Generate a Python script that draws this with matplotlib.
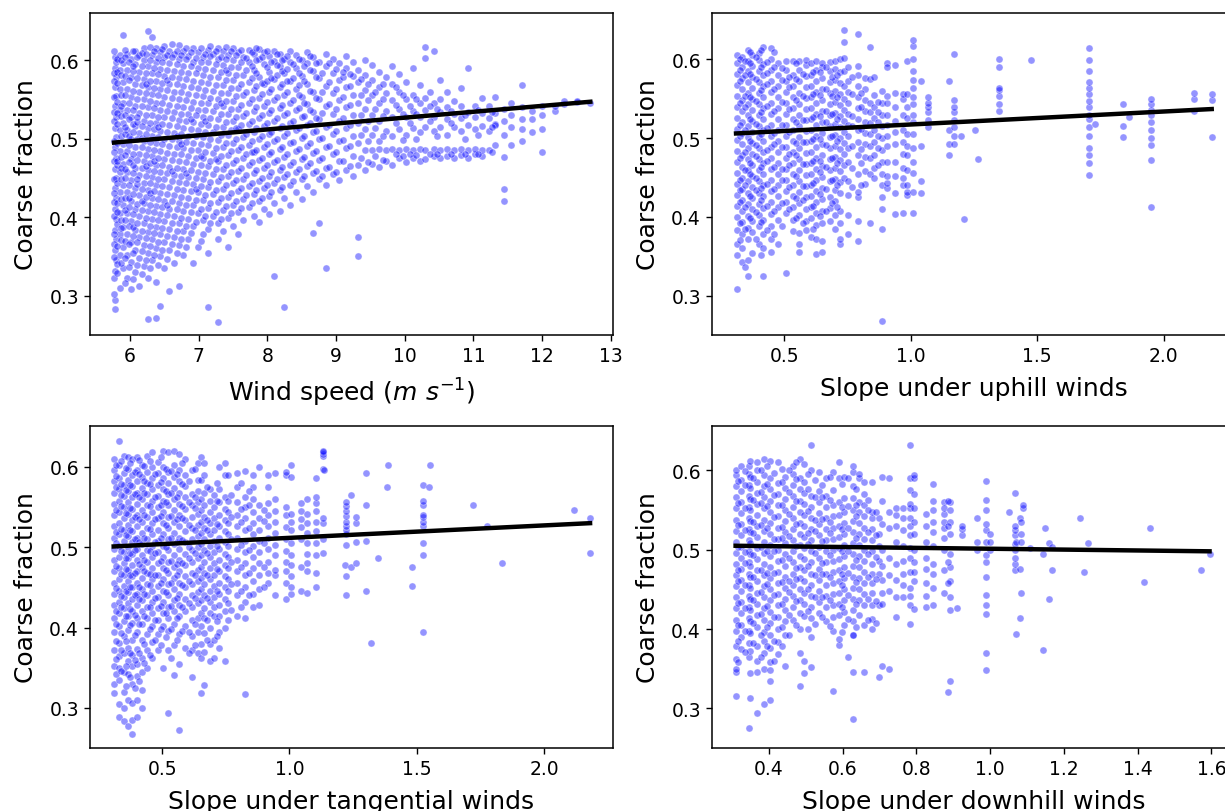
# Coarse fraction against wind speed and slope, four scatter panels with fit lines
import matplotlib
matplotlib.use("Agg")
import matplotlib.pyplot as plt

# y values are in thousandths, one row per x column
wind_columns = [
    (5.78, [283, 294, 331, 358, 384, 411, 437, 462, 489, 514, 541, 566, 590, 604]),
    (5.80, [345, 372, 398, 425, 450, 476, 502, 528, 554, 579, 598]),
    (5.85, [310, 352, 379, 405, 432, 458, 484, 511, 537, 563, 588, 607]),
    (5.90, [335, 362, 388, 415, 441, 468, 493, 520, 546, 572, 596, 632]),
    (5.96, [322, 352, 379, 405, 432, 458, 484, 511, 537, 563, 588, 608]),
    (6.02, [308, 343, 368, 395, 421, 447, 474, 500, 527, 553, 578, 601]),
    (6.08, [330, 358, 384, 410, 437, 463, 490, 516, 542, 569, 595, 612]),
    (6.14, [312, 348, 375, 401, 428, 454, 480, 507, 533, 560, 585, 606]),
    (6.20, [338, 365, 392, 418, 444, 471, 497, 523, 550, 576, 600, 615]),
    (6.26, [270, 322, 355, 381, 408, 434, 460, 487, 513, 540, 566, 592, 637]),
    (6.32, [345, 372, 398, 425, 451, 478, 504, 530, 557, 583, 607, 630]),
    (6.38, [272, 318, 361, 388, 414, 441, 467, 494, 520, 546, 573, 598, 615]),
    (6.44, [287, 350, 378, 404, 431, 457, 484, 510, 537, 563, 589, 610]),
    (6.50, [335, 368, 395, 421, 448, 474, 500, 527, 553, 580, 604, 618]),
    (6.57, [306, 358, 385, 411, 438, 464, 491, 517, 543, 570, 596, 612]),
    (6.64, [342, 375, 401, 428, 454, 481, 507, 534, 560, 586, 608]),
    (6.71, [312, 365, 392, 418, 445, 471, 497, 524, 550, 577, 601, 619]),
    (6.78, [352, 382, 408, 435, 461, 488, 514, 540, 567, 593, 612]),
    (6.85, [372, 398, 425, 451, 478, 504, 531, 557, 583, 605]),
    (6.92, [342, 389, 415, 442, 468, 494, 521, 547, 574, 598, 616]),
    (6.99, [362, 405, 432, 458, 485, 511, 537, 564, 590, 610]),
    (7.06, [378, 396, 422, 449, 475, 502, 528, 554, 581, 604]),
    (7.14, [286, 355, 385, 412, 439, 465, 492, 518, 545, 571, 597, 613]),
    (7.21, [402, 429, 455, 482, 508, 535, 561, 587, 608]),
    (7.28, [267, 372, 392, 419, 446, 472, 498, 525, 551, 578, 602, 616]),
    (7.36, [383, 409, 436, 462, 489, 515, 541, 568, 594, 612]),
    (7.43, [362, 399, 426, 452, 479, 505, 532, 558, 584, 606]),
    (7.50, [389, 416, 443, 469, 495, 522, 548, 575, 600, 615]),
    (7.58, [378, 406, 433, 459, 486, 512, 538, 565, 591, 610]),
    (7.65, [397, 423, 449, 476, 502, 529, 555, 581, 604]),
    (7.73, [413, 440, 466, 492, 519, 545, 572, 598, 613]),
    (7.80, [402, 430, 456, 483, 509, 535, 562, 588, 608]),
    (7.88, [394, 420, 446, 473, 499, 526, 552, 578, 602, 614]),
    (7.95, [411, 437, 463, 490, 516, 542, 569, 595, 610]),
    (8.03, [404, 427, 453, 480, 506, 533, 559, 585, 605]),
    (8.10, [325, 418, 444, 470, 497, 523, 549, 576, 599, 612]),
    (8.18, [408, 434, 460, 487, 513, 539, 566, 592, 608]),
    (8.25, [286, 425, 451, 477, 504, 530, 556, 583, 602]),
    (8.33, [416, 441, 467, 494, 520, 546, 573, 597, 611]),
    (8.42, [432, 458, 484, 511, 537, 563, 590, 606]),
    (8.50, [423, 448, 474, 501, 527, 553, 580, 600]),
    (8.58, [440, 465, 491, 518, 544, 570, 596, 610]),
    (8.67, [380, 432, 456, 482, 508, 534, 560, 586, 604]),
    (8.75, [392, 448, 473, 499, 525, 551, 577, 598]),
    (8.85, [335, 441, 463, 489, 515, 541, 567, 592, 608]),
    (8.95, [455, 480, 506, 532, 558, 584, 602]),
    (9.05, [447, 472, 497, 523, 549, 575, 596]),
    (9.15, [460, 488, 514, 540, 566, 590, 605]),
    (9.25, [452, 478, 504, 530, 556, 580, 597]),
    (9.32, [351, 375, 466, 494, 520, 546, 572, 588]),
    (9.42, [460, 486, 512, 538, 562, 581, 600]),
    (9.52, [468, 485, 505, 530, 555, 575, 594]),
    (9.62, [464, 487, 497, 522, 546, 566, 585]),
    (9.72, [472, 486, 510, 535, 558, 578]),
    (9.82, [466, 487, 503, 527, 549, 570, 592]),
    (9.92, [475, 485, 512, 538, 560, 582]),
    (10.02, [470, 487, 505, 528, 550, 572]),
    (10.12, [476, 485, 514, 535, 556, 590]),
    (10.22, [472, 487, 508, 528, 546, 568]),
    (10.30, [474, 485, 515, 536, 552, 603, 617]),
    (10.42, [478, 487, 510, 527, 545, 612]),
    (10.52, [476, 485, 515, 534, 550, 575]),
    (10.62, [478, 487, 505, 525, 540, 560]),
    (10.72, [475, 485, 515, 532, 548]),
    (10.82, [479, 487, 510, 526, 541, 565]),
    (10.92, [476, 485, 518, 534, 590]),
    (11.02, [480, 487, 512, 527, 542]),
    (11.12, [478, 485, 516, 533, 552]),
    (11.22, [486, 510, 526, 541]),
    (11.32, [492, 519, 533, 553, 518]),
    (11.45, [420, 436, 477, 505, 522, 538]),
    (11.55, [492, 515, 530, 546]),
    (11.70, [497, 512, 525, 540, 568]),
    (11.85, [508, 525, 535]),
    (12.00, [483, 512, 530, 541]),
    (12.18, [535, 542]),
    (12.32, [544, 548]),
    (12.50, [547, 548]),
    (12.70, [546]),
]

# more points from the crowded part of the wind panel
wind_crowded = [
    (5.77, [302, 322, 349, 366, 379, 401, 419, 431, 449, 471, 483, 497, 522, 534, 553, 573, 583, 611]),
    (5.82, [329, 340, 363, 391, 407, 418, 444, 466, 471, 495, 519, 533, 547, 571, 585, 601]),
    (5.87, [342, 371, 386, 396, 423, 449, 463, 477, 503, 529, 541, 555, 581, 600]),
    (5.93, [316, 348, 370, 397, 409, 424, 450, 461, 479, 506, 515, 530, 556, 580, 604, 613]),
    (5.99, [337, 366, 389, 413, 425, 441, 470, 492, 503, 525, 546, 575, 597]),
    (6.05, [321, 355, 376, 388, 404, 429, 456, 467, 481, 509, 519, 536, 561, 586, 593, 611]),
    (6.11, [339, 368, 393, 417, 442, 448, 473, 499, 521, 527, 551, 577, 604]),
    (6.17, [328, 357, 383, 409, 421, 436, 463, 489, 501, 516, 541, 568, 592, 609]),
    (6.23, [346, 374, 399, 426, 453, 465, 479, 506, 530, 558, 569, 583, 608]),
    (6.29, [335, 363, 389, 416, 431, 443, 469, 496, 520, 548, 574, 600, 617]),
    (6.35, [352, 380, 407, 433, 459, 472, 486, 512, 539, 565, 590, 611]),
    (6.41, [339, 369, 396, 423, 449, 476, 502, 515, 528, 555, 582, 603]),
    (6.47, [358, 386, 413, 440, 466, 493, 519, 545, 571, 597, 614]),
    (6.54, [347, 376, 403, 416, 429, 456, 482, 509, 535, 562, 575, 588, 607]),
    (6.61, [366, 393, 420, 446, 459, 473, 499, 526, 552, 578, 604, 620]),
    (6.68, [355, 383, 410, 436, 463, 489, 503, 516, 542, 569, 595, 612]),
    (6.75, [372, 399, 426, 453, 480, 493, 506, 532, 559, 585, 607]),
    (6.82, [362, 389, 416, 443, 456, 470, 496, 522, 549, 576, 601, 616]),
    (6.89, [380, 406, 433, 460, 486, 512, 525, 539, 566, 592, 610]),
    (6.96, [394, 422, 436, 450, 476, 503, 530, 556, 583, 603]),
    (7.03, [370, 411, 440, 466, 478, 493, 519, 546, 572, 598, 615]),
    (7.10, [401, 428, 456, 483, 509, 522, 536, 562, 589, 608]),
    (7.17, [392, 418, 445, 472, 499, 526, 552, 579, 605, 618]),
    (7.25, [407, 435, 462, 474, 488, 515, 542, 568, 595, 612]),
    (7.32, [398, 424, 451, 478, 505, 532, 545, 558, 585, 604]),
    (7.40, [414, 441, 467, 494, 521, 548, 575, 588, 601, 617]),
    (7.47, [405, 431, 458, 484, 511, 538, 564, 591, 611]),
    (7.54, [421, 447, 473, 500, 513, 527, 554, 581, 607]),
    (7.62, [412, 437, 463, 490, 517, 543, 570, 597, 613]),
    (7.69, [428, 454, 480, 506, 533, 560, 587, 603]),
    (7.77, [418, 444, 470, 483, 497, 523, 550, 577, 593, 610]),
    (7.84, [434, 460, 486, 513, 540, 567, 584, 600, 616]),
    (7.92, [425, 450, 476, 503, 530, 557, 571, 604]),
    (7.99, [441, 466, 493, 520, 547, 574, 591, 611]),
    (8.06, [432, 457, 483, 509, 537, 563, 577, 598]),
    (8.14, [448, 473, 500, 526, 553, 581, 594, 608]),
    (8.22, [439, 464, 490, 516, 543, 570, 586, 600]),
    (8.29, [455, 480, 507, 533, 560, 573, 589, 605]),
    (8.37, [446, 470, 496, 522, 549, 577, 595]),
    (8.46, [462, 487, 513, 539, 556, 568, 584, 601]),
    (8.54, [453, 477, 503, 529, 546, 574, 592]),
    (8.62, [469, 494, 520, 536, 561, 588, 605]),
    (8.71, [459, 484, 510, 526, 552, 578, 596]),
    (8.80, [452, 476, 501, 533, 559, 584]),
    (8.90, [464, 491, 518, 544, 572, 596]),
    (9.00, [458, 483, 510, 538, 563, 589]),
    (9.10, [471, 498, 526, 553, 578, 585]),
    (9.20, [465, 491, 517, 543, 567, 582]),
    (9.36, [475, 505, 530, 556, 576]),
    (9.47, [470, 497, 522, 549, 569]),
    (9.57, [478, 513, 538, 560]),
    (9.68, [473, 503, 529, 551, 570]),
    (9.87, [480, 520, 543, 566]),
    (9.97, [478, 498, 531, 555]),
    (10.07, [481, 520, 541]),
    (10.17, [479, 500, 532, 551]),
    (10.37, [481, 522, 541, 560]),
    (10.47, [480, 503, 538]),
    (10.67, [481, 520, 535]),
    (10.87, [481, 500, 530]),
    (11.07, [481, 505, 536]),
    (11.27, [483, 515, 534]),
]

uphill_columns = [
    (0.314, [309, 352, 366, 384, 400, 414, 428, 442, 456, 470, 484, 498, 512, 526, 540, 554, 568, 582, 596, 606]),
    (0.334, [343, 360, 378, 393, 408, 422, 436, 450, 464, 478, 492, 506, 520, 534, 548, 562, 576, 590, 603]),
    (0.356, [325, 345, 372, 386, 401, 417, 431, 445, 459, 473, 487, 501, 515, 529, 543, 557, 571, 585, 598, 612]),
    (0.375, [354, 381, 395, 410, 424, 438, 452, 466, 480, 494, 508, 522, 536, 550, 564, 578, 592, 606]),
    (0.399, [365, 388, 403, 417, 431, 445, 459, 473, 487, 501, 515, 529, 543, 557, 571, 585, 599, 608]),
    (0.418, [325, 360, 378, 396, 411, 426, 440, 454, 468, 482, 496, 510, 524, 538, 552, 566, 580, 594, 616]),
    (0.447, [355, 372, 388, 404, 419, 433, 447, 461, 475, 489, 503, 517, 531, 545, 559, 573, 587, 601, 615]),
    (0.477, [365, 396, 412, 426, 440, 454, 468, 482, 496, 510, 524, 538, 552, 566, 580, 596]),
    (0.506, [329, 405, 419, 433, 447, 461, 475, 489, 503, 517, 531, 545, 559, 573, 587, 598]),
    (0.536, [382, 396, 412, 426, 440, 454, 468, 482, 496, 510, 524, 538, 552, 566, 580, 598]),
    (0.558, [355, 365, 380, 403, 418, 432, 446, 460, 474, 488, 502, 516, 530, 544, 558, 572, 586, 598]),
    (0.588, [384, 395, 410, 425, 439, 453, 467, 481, 495, 509, 523, 537, 551, 565, 579, 593, 599]),
    (0.605, [375, 398, 412, 426, 440, 454, 468, 482, 496, 510, 524, 538, 552, 566, 580, 596]),
    (0.628, [353, 372, 390, 405, 419, 433, 447, 461, 475, 489, 503, 517, 531, 545, 559, 573, 587, 598]),
    (0.650, [355, 370, 392, 408, 423, 437, 451, 465, 479, 493, 507, 521, 535, 549, 563, 577, 591, 596]),
    (0.680, [395, 411, 425, 445, 459, 473, 487, 501, 515, 529, 543, 557, 571, 585, 597]),
    (0.700, [385, 402, 420, 434, 448, 462, 476, 490, 504, 518, 532, 546, 560, 574, 588, 598]),
    (0.720, [365, 372, 392, 408, 430, 444, 458, 472, 486, 500, 514, 528, 542, 556, 570, 584, 600]),
    (0.737, [450, 466, 480, 494, 508, 522, 536, 550, 566, 585, 602, 622, 637]),
    (0.754, [378, 402, 428, 445, 470, 487, 503, 517, 531, 545, 559, 573, 590]),
    (0.792, [369, 395, 425, 432, 455, 478, 495, 510, 524, 538, 552, 566, 580, 592, 632]),
    (0.820, [442, 458, 476, 492, 507, 521, 535, 549, 563, 576]),
    (0.840, [392, 455, 475, 490, 505, 519, 533, 545, 575, 616]),
    (0.856, [450, 462, 478, 495, 510, 526, 540, 555, 578]),
    (0.888, [268, 385, 410, 425, 440, 455, 470, 485, 500, 515, 530, 545, 560]),
    (0.905, [437, 443, 452, 470, 490, 503, 517, 530, 545, 554, 595, 590]),
    (0.938, [404, 431, 452, 470, 492, 508, 522, 540, 558, 593]),
    (0.970, [405, 440, 450, 462, 480, 495, 511, 530, 550, 556]),
    (0.986, [428, 432, 440, 460, 478, 490, 505, 525, 540, 556, 598]),
    (1.010, [405, 432, 456, 470, 488, 505, 520, 530, 543, 552, 564, 574, 585, 600, 617, 625]),
    (1.040, [430, 445, 490, 572]),
    (1.070, [514, 523, 533, 539, 545, 552]),
    (1.150, [479, 492, 511, 572]),
    (1.170, [493, 503, 514, 523, 533, 539, 548, 607]),
    (1.200, [503]),
    (1.210, [397]),
    (1.255, [511]),
    (1.267, [473]),
    (1.350, [534, 544, 554, 561, 564, 591, 600]),
    (1.476, [599]),
    (1.706, [453, 469, 479, 488, 503, 514, 524, 530, 539, 547, 556, 564, 571, 585, 599, 615]),
    (1.730, [518]),
    (1.840, [501, 516, 543]),
    (1.864, [527]),
    (1.950, [412, 472, 491, 500, 511, 520, 529, 536, 543, 550]),
    (2.120, [534, 550, 558]),
    (2.190, [502, 548, 556]),
]

uphill_crowded = [
    (0.324, [371, 392, 419, 434, 447, 475, 503, 517, 545, 572, 587, 601]),
    (0.345, [337, 385, 413, 441, 459, 483, 511, 539, 553, 580, 598]),
    (0.366, [398, 427, 455, 469, 497, 524, 552, 581, 595, 609]),
    (0.387, [372, 406, 434, 449, 477, 491, 518, 547, 575, 603]),
    (0.408, [352, 393, 421, 437, 463, 505, 533, 561, 590, 612]),
    (0.432, [384, 414, 442, 471, 485, 513, 541, 569, 583, 597]),
    (0.462, [378, 408, 436, 464, 493, 507, 535, 563, 591, 610]),
    (0.491, [388, 418, 447, 461, 489, 517, 546, 574, 589]),
    (0.521, [410, 438, 466, 480, 508, 537, 565, 578]),
    (0.547, [398, 424, 452, 479, 494, 521, 549, 575, 596]),
    (0.573, [392, 421, 439, 467, 495, 523, 553, 581]),
    (0.616, [385, 414, 443, 471, 499, 527, 556, 584]),
    (0.640, [401, 429, 457, 471, 499, 528, 555, 584]),
    (0.665, [407, 435, 463, 491, 520, 534, 562, 590]),
    (0.690, [418, 447, 475, 503, 531, 553, 578]),
    (0.710, [412, 440, 468, 496, 524, 552, 580]),
    (0.770, [438, 462, 490, 515, 528, 556, 578]),
    (0.805, [440, 468, 486, 512, 540, 558]),
    (0.870, [466, 488, 503, 520, 533, 546]),
]

tangential_columns = [
    (0.312, [318, 330, 352, 372, 395, 412, 428, 442, 456, 470, 484, 498, 512, 526, 540, 554, 568, 582, 596, 610]),
    (0.331, [288, 305, 335, 350, 365, 381, 402, 418, 432, 446, 460, 474, 488, 502, 516, 530, 544, 558, 572, 586, 602, 632]),
    (0.350, [284, 300, 320, 345, 368, 390, 408, 424, 438, 452, 466, 480, 494, 508, 522, 536, 550, 564, 578, 592, 614]),
    (0.365, [278, 310, 342, 358, 375, 397, 414, 430, 444, 458, 472, 486, 500, 514, 528, 542, 556, 570, 584, 598, 612]),
    (0.381, [267, 285, 306, 330, 352, 366, 385, 406, 420, 436, 450, 464, 478, 492, 506, 520, 534, 548, 562, 576, 590, 610]),
    (0.402, [288, 310, 340, 355, 373, 395, 412, 428, 442, 456, 470, 484, 498, 512, 526, 540, 554, 568, 582, 596, 613]),
    (0.420, [300, 322, 345, 362, 385, 404, 420, 434, 448, 462, 476, 490, 504, 518, 532, 546, 560, 574, 588, 602]),
    (0.440, [350, 372, 392, 412, 426, 440, 454, 468, 482, 496, 510, 524, 538, 552, 566, 580, 594, 614]),
    (0.462, [362, 382, 402, 418, 432, 446, 460, 474, 488, 502, 516, 530, 544, 558, 572, 586, 600, 618]),
    (0.482, [372, 392, 410, 424, 438, 452, 466, 480, 494, 508, 522, 536, 550, 564, 578, 592, 606]),
    (0.505, [350, 402, 418, 432, 446, 460, 474, 488, 502, 516, 530, 544, 558, 572, 586, 600, 620]),
    (0.522, [294, 372, 396, 412, 426, 440, 454, 468, 482, 496, 510, 524, 538, 552, 566, 580, 594, 618]),
    (0.548, [341, 378, 405, 420, 434, 448, 462, 476, 490, 504, 518, 532, 546, 560, 574, 588, 602, 620]),
    (0.568, [272, 355, 392, 414, 428, 442, 456, 470, 484, 498, 512, 526, 540, 554, 568, 582, 596, 616]),
    (0.590, [375, 402, 420, 436, 450, 464, 478, 492, 506, 520, 534, 548, 562, 576, 590, 610]),
    (0.617, [339, 372, 390, 410, 426, 440, 454, 468, 482, 496, 510, 524, 538, 552, 566, 596]),
    (0.640, [368, 395, 412, 430, 444, 458, 472, 486, 500, 514, 528, 542, 556, 570, 584, 605]),
    (0.653, [319, 362, 380, 402, 418, 434, 448, 462, 476, 490, 504, 518, 532, 546, 560, 584, 612]),
    (0.664, [329, 370, 393, 412, 424, 440, 454, 468, 482, 496, 510, 524, 538, 552, 568, 590, 605]),
    (0.690, [358, 380, 400, 418, 432, 446, 460, 474, 488, 502, 516, 530, 544, 558, 572]),
    (0.705, [362, 385, 415, 425, 438, 452, 466, 480, 494, 508, 522, 536, 550, 565]),
    (0.725, [375, 395, 415, 428, 442, 456, 470, 484, 498, 512, 526, 540, 556, 572, 600]),
    (0.745, [358, 400, 420, 435, 450, 464, 478, 492, 506, 520, 534, 548, 562, 590, 605]),
    (0.760, [410, 430, 446, 460, 474, 488, 502, 516, 530, 544, 558, 590]),
    (0.795, [415, 440, 455, 470, 484, 498, 512, 526, 540, 556, 575, 593]),
    (0.824, [317, 412, 432, 450, 466, 480, 494, 508, 522, 536, 550, 562, 595]),
    (0.855, [425, 442, 458, 474, 488, 502, 516, 530, 544, 560, 575, 590]),
    (0.880, [428, 448, 465, 480, 494, 508, 522, 536, 552, 600]),
    (0.915, [455, 468, 482, 498, 512, 526, 540, 555, 575, 590]),
    (0.945, [440, 465, 472, 490, 503, 518, 532, 545, 560, 592]),
    (0.985, [435, 455, 470, 482, 495, 510, 525, 540, 550, 590, 594]),
    (1.005, [442, 450, 464, 478, 490, 505, 522, 532, 542, 588, 602]),
    (1.045, [445, 475, 510, 525, 535, 545, 555]),
    (1.070, [443, 470, 480, 492, 505, 518, 530, 542, 560]),
    (1.105, [450, 468, 490, 505, 520, 532, 545, 555, 562, 586]),
    (1.130, [493, 510, 530, 536, 598, 614, 616, 618, 620]),
    (1.137, [596]),
    (1.223, [441, 464, 503, 517, 522, 527, 532, 539, 545, 551, 556]),
    (1.219, [478]),
    (1.243, [475, 565]),
    (1.263, [481, 507, 530, 538]),
    (1.300, [445, 508, 553, 593]),
    (1.320, [381]),
    (1.348, [486]),
    (1.383, [575]),
    (1.387, [603]),
    (1.480, [452, 476]),
    (1.526, [395, 490, 505, 526, 532, 538, 540, 552, 558, 578]),
    (1.547, [575]),
    (1.550, [603]),
    (1.720, [553]),
    (1.776, [527]),
    (1.835, [480]),
    (2.115, [546]),
    (2.180, [493, 536]),
]

tangential_crowded = [
    (0.320, [342, 361, 383, 405, 421, 449, 477, 505, 519, 547, 575, 589, 603]),
    (0.340, [346, 372, 393, 425, 439, 467, 495, 523, 551, 565, 579, 607]),
    (0.358, [327, 352, 383, 415, 445, 473, 487, 515, 543, 571, 599]),
    (0.373, [338, 368, 403, 423, 451, 465, 493, 521, 549, 577, 605]),
    (0.392, [325, 359, 391, 416, 440, 468, 496, 510, 538, 566, 594]),
    (0.411, [334, 368, 404, 436, 451, 479, 507, 535, 563, 591, 609]),
    (0.430, [356, 380, 414, 442, 470, 484, 512, 540, 568, 582, 601]),
    (0.451, [366, 398, 425, 453, 467, 495, 523, 551, 579, 608]),
    (0.472, [385, 410, 437, 465, 493, 507, 535, 563, 591]),
    (0.494, [378, 398, 427, 455, 483, 511, 539, 553, 581, 612]),
    (0.514, [388, 418, 444, 472, 500, 528, 556, 570, 598]),
    (0.535, [362, 398, 427, 455, 483, 511, 539, 567, 595]),
    (0.558, [385, 412, 437, 465, 479, 507, 535, 563, 591]),
    (0.580, [396, 425, 453, 481, 509, 537, 551, 579, 605]),
    (0.604, [368, 395, 430, 458, 486, 500, 528, 556, 583]),
    (0.628, [378, 404, 437, 465, 493, 521, 549, 563, 598]),
    (0.678, [385, 410, 437, 465, 493, 521, 534, 575]),
    (0.715, [390, 408, 445, 473, 501, 529, 557, 580]),
    (0.770, [422, 454, 482, 510, 538, 565]),
    (0.810, [425, 446, 476, 503, 531, 548, 580]),
    (0.840, [440, 468, 496, 524, 552, 570]),
    (0.900, [450, 475, 505, 533, 546]),
]

downhill_columns = [
    (0.310, [315, 346, 350, 362, 378, 398, 412, 426, 440, 454, 468, 482, 496, 510, 524, 538, 552, 566, 580, 594, 600]),
    (0.325, [375, 390, 405, 420, 434, 448, 462, 476, 490, 504, 518, 532, 546, 560, 574, 588, 606]),
    (0.345, [275, 365, 382, 398, 414, 428, 442, 456, 470, 484, 498, 512, 526, 540, 554, 568, 582, 596, 606]),
    (0.350, [313, 345, 372, 395, 410, 424, 438, 452, 466, 480, 494, 508, 522, 536, 550, 564, 578, 592, 612]),
    (0.367, [294, 346, 360, 378, 402, 418, 432, 446, 460, 474, 488, 502, 516, 530, 544, 558, 572, 586, 600, 610]),
    (0.388, [305, 350, 370, 385, 396, 412, 426, 440, 454, 468, 482, 496, 510, 524, 538, 552, 566, 580, 594, 614]),
    (0.404, [310, 335, 348, 358, 376, 392, 408, 422, 436, 450, 464, 478, 492, 506, 520, 534, 548, 562, 576, 590, 612]),
    (0.425, [368, 384, 400, 415, 430, 444, 458, 472, 486, 500, 514, 528, 542, 556, 570, 584, 610]),
    (0.445, [354, 392, 410, 424, 438, 452, 466, 480, 494, 508, 522, 536, 550, 564, 578, 592]),
    (0.466, [412, 428, 442, 456, 470, 484, 498, 512, 526, 540, 554, 568, 582, 596, 606]),
    (0.484, [328, 370, 400, 420, 436, 450, 464, 478, 492, 506, 520, 534, 548, 562, 576, 590, 615]),
    (0.495, [345, 360, 416, 432, 446, 460, 474, 488, 502, 516, 530, 544, 558, 572, 586, 608]),
    (0.515, [352, 390, 414, 428, 442, 456, 470, 484, 498, 512, 526, 540, 554, 568, 600, 632]),
    (0.535, [420, 434, 448, 462, 476, 490, 504, 518, 532, 546, 560, 574, 598]),
    (0.555, [410, 428, 442, 456, 470, 484, 498, 512, 526, 540, 554, 568, 590]),
    (0.575, [322, 398, 415, 430, 444, 458, 472, 486, 500, 514, 528, 542, 556, 575, 598]),
    (0.590, [380, 388, 418, 432, 446, 460, 474, 488, 502, 516, 530, 544, 560, 590, 610]),
    (0.605, [405, 422, 436, 450, 464, 478, 492, 506, 520, 534, 548, 565, 592]),
    (0.627, [286, 392, 410, 424, 438, 452, 466, 480, 494, 508, 522, 536, 550, 565, 580, 598, 605]),
    (0.629, [346, 392]),
    (0.645, [418, 436, 450, 464, 478, 492, 506, 520, 534, 548, 560, 590, 596]),
    (0.658, [346, 405, 430, 444, 458, 472, 486, 500, 514, 528, 542, 556, 570, 586]),
    (0.680, [400, 413, 430, 445, 458, 470, 482, 498, 512, 526, 540, 548, 585]),
    (0.699, [340, 430, 470, 486, 505, 520, 540]),
    (0.707, [353, 432, 446, 462, 480, 500, 532, 562, 592]),
    (0.727, [350, 448, 468, 490, 527, 548, 590]),
    (0.745, [415, 440, 462, 482, 510, 530, 544, 552]),
    (0.765, [440, 456, 470, 486, 505, 525, 540, 552]),
    (0.782, [406, 430, 442, 452, 472, 490, 502, 518, 530, 540, 552, 558, 575, 590, 632]),
    (0.795, [425, 460, 472, 484, 500, 520, 535, 552, 570, 590, 594]),
    (0.825, [428, 442, 458, 476, 490, 510, 530, 545]),
    (0.845, [430, 452, 470, 482, 505, 522, 535, 550, 562, 583]),
    (0.875, [445, 475, 500, 515, 528, 535, 545, 560, 553]),
    (0.890, [335, 424, 440, 460, 478, 495, 520, 535, 550, 560]),
    (0.885, [321, 458, 485, 530, 562]),
    (0.925, [518, 526, 530]),
    (0.909, [426]),
    (0.965, [500, 510, 540]),
    (0.988, [348, 370, 419, 430, 443, 466, 485, 493, 510, 525, 533, 550, 563, 587]),
    (1.000, [510, 520, 500]),
    (1.052, [548]),
    (1.067, [475, 482, 490, 500, 507, 518, 525, 530, 571]),
    (1.070, [394, 510]),
    (1.081, [414, 476, 540]),
    (1.083, [445, 520, 510, 535]),
    (1.090, [552, 556]),
    (1.108, [502]),
    (1.144, [374, 495]),
    (1.148, [528]),
    (1.160, [438, 509]),
    (1.169, [474, 503]),
    (1.243, [540]),
    (1.255, [472]),
    (1.265, [509]),
    (1.418, [459]),
    (1.433, [527]),
    (1.571, [475]),
    (1.597, [495]),
]

downhill_crowded = [
    (0.317, [358, 385, 405, 433, 461, 475, 503, 531, 559, 587]),
    (0.335, [371, 398, 427, 455, 483, 497, 525, 553, 581, 599]),
    (0.358, [382, 408, 437, 465, 493, 521, 535, 563, 591]),
    (0.378, [365, 392, 419, 447, 475, 503, 531, 559, 573, 601]),
    (0.396, [378, 402, 429, 457, 471, 499, 527, 555, 583, 606]),
    (0.414, [360, 385, 415, 443, 471, 499, 513, 541, 569, 597]),
    (0.435, [378, 403, 431, 459, 487, 515, 529, 557, 585, 602]),
    (0.456, [392, 418, 447, 461, 489, 517, 545, 573, 600]),
    (0.475, [405, 435, 463, 477, 505, 533, 561, 589, 610]),
    (0.505, [400, 423, 451, 479, 507, 521, 549, 577, 595]),
    (0.525, [406, 440, 468, 496, 524, 538, 566, 588]),
    (0.545, [415, 441, 469, 483, 511, 539, 567, 581]),
    (0.565, [404, 437, 465, 493, 521, 535, 563, 592]),
    (0.598, [396, 428, 456, 470, 498, 526, 554, 583]),
    (0.615, [365, 413, 443, 471, 499, 527, 555, 590]),
    (0.636, [402, 431, 459, 487, 515, 543, 557, 576]),
    (0.668, [412, 438, 466, 494, 522, 550, 563]),
    (0.690, [408, 435, 463, 491, 519, 547]),
]

# fit lines, end points
wind_fit = ([5.77, 12.70], [0.495, 0.547])
uphill_fit = ([0.31, 2.19], [0.506, 0.537])
tangential_fit = ([0.31, 2.18], [0.501, 0.530])
downhill_fit = ([0.31, 1.595], [0.505, 0.498])

x_labels = [r"Wind speed ($m\ s^{-1}$)", "Slope under uphill winds",
            "Slope under tangential winds", "Slope under downhill winds"]
x_limits = [(5.42, 13.03), (0.215, 2.282), (0.217, 2.27), (0.246, 1.664)]
y_limits = [(0.25, 0.66), (0.25, 0.659), (0.25, 0.651), (0.25, 0.656)]
x_ticks = [[6, 7, 8, 9, 10, 11, 12, 13], [0.5, 1.0, 1.5, 2.0], [0.5, 1.0, 1.5, 2.0],
           [0.4, 0.6, 0.8, 1.0, 1.2, 1.4, 1.6]]
y_ticks = [0.3, 0.4, 0.5, 0.6]

W, H = 1225, 812
fig = plt.figure(figsize=(W / 100, H / 100), dpi=100)

# pixel boxes of the axes, the right column runs off the edge of the picture
boxes = [(90, 14), (712, 14), (90, 427), (712, 427)]
panels = [(wind_columns + wind_crowded, wind_fit),
          (uphill_columns + uphill_crowded, uphill_fit),
          (tangential_columns + tangential_crowded, tangential_fit),
          (downhill_columns + downhill_crowded, downhill_fit)]

for i, (columns, fit) in enumerate(panels):
    left, top = boxes[i]
    ax = fig.add_axes([left / W, 1 - (top + 322) / H, 523 / W, 322 / H])
    xs = []
    ys = []
    for x, values in columns:
        for v in values:
            xs.append(x)
            ys.append(v / 1000)
    ax.scatter(xs, ys, s=26, color="blue", alpha=0.42, edgecolors="white", linewidths=0.6)
    ax.plot(fit[0], fit[1], color="black", linewidth=3.2)
    ax.set_xlim(x_limits[i])
    ax.set_ylim(y_limits[i])
    ax.set_xticks(x_ticks[i])
    ax.set_yticks(y_ticks)
    ax.tick_params(labelsize=13.5, width=1.0, length=4.5)
    ax.set_xlabel(x_labels[i], fontsize=18, labelpad=8)
    ax.set_ylabel("Coarse fraction", fontsize=18, labelpad=8)
    for spine in ax.spines.values():
        spine.set_linewidth(1.1)

fig.savefig("out.png", dpi=100)
